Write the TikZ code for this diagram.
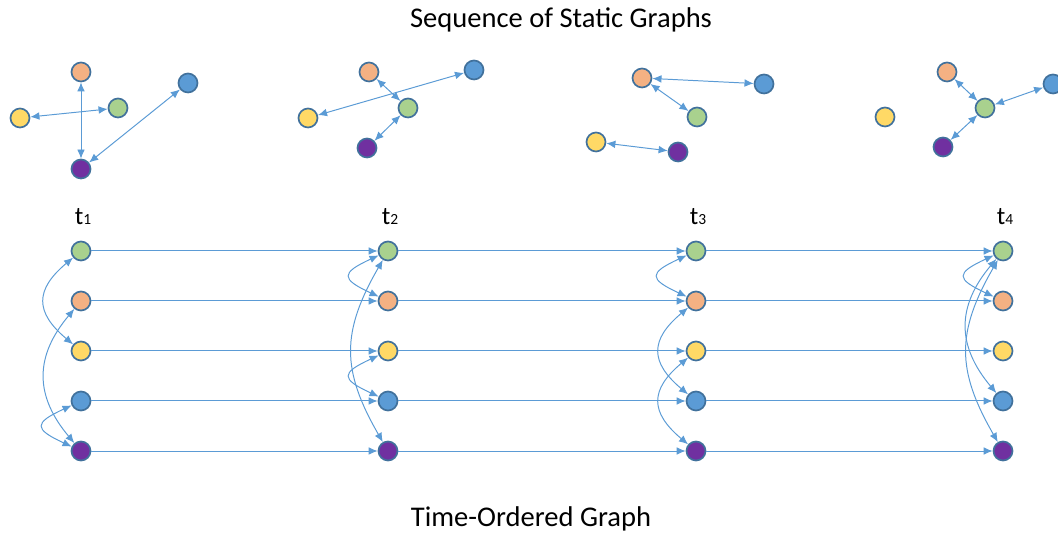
\documentclass[tikz,border=0pt]{standalone}
\usepackage{fontspec}
\setmainfont{Carlito}
\usetikzlibrary{arrows.meta}

\definecolor{vgreen}{HTML}{A9D18E}
\definecolor{vorange}{HTML}{F4B183}
\definecolor{vyellow}{HTML}{FFD966}
\definecolor{vblue}{HTML}{5B9BD5}
\definecolor{vpurple}{HTML}{7030A0}
\definecolor{vrim}{HTML}{41719C}
\definecolor{varrow}{HTML}{5B9BD5}

\tikzset{
 vert/.style={circle,draw=vrim,line width=1.2pt,minimum size=0.475cm,inner sep=0pt},
 link/.style={<->,draw=varrow,line width=0.7pt},
 flow/.style={->,draw=varrow,line width=0.7pt},
 hop1/.style={out=205,in=155,distance=1.05cm},
 hop2/.style={out=220,in=140,distance=1.25cm},
 hop3/.style={out=230,in=130,distance=1.55cm},
 hop4/.style={out=240,in=120,distance=2.08cm},
}

\begin{document}
\begin{tikzpicture}[x=0.025cm,y=0.025cm,>={Latex[length=6.5pt,width=5.5pt]}]
 \useasboundingbox (0,0) rectangle (1058,536);
 \node[font=\fontsize{20.3}{24}\selectfont] (title) at (561,516) {Sequence of Static Graphs};
 \node[font=\fontsize{20.3}{24}\selectfont] (foot) at (531,17) {Time-Ordered Graph};
 % ---- snapshot 1
 \node[vert,fill=vorange] (a1o) at (81,464) {};
 \node[vert,fill=vgreen]  (a1g) at (118,428) {};
 \node[vert,fill=vblue]   (a1b) at (188,453) {};
 \node[vert,fill=vyellow] (a1y) at (20,418) {};
 \node[vert,fill=vpurple] (a1p) at (81,367) {};
 \draw[link] (a1o) -- (a1p);
 \draw[link] (a1y) -- (a1g);
 \draw[link] (a1b) -- (a1p);
 % ---- snapshot 2
 \node[vert,fill=vorange] (a2o) at (369,464) {};
 \node[vert,fill=vgreen]  (a2g) at (408,428) {};
 \node[vert,fill=vblue]   (a2b) at (474,466) {};
 \node[vert,fill=vyellow] (a2y) at (308,418) {};
 \node[vert,fill=vpurple] (a2p) at (367,388) {};
 \draw[link] (a2o) -- (a2g);
 \draw[link] (a2y) -- (a2b);
 \draw[link] (a2g) -- (a2p);
 % ---- snapshot 3
 \node[vert,fill=vorange] (a3o) at (642,458) {};
 \node[vert,fill=vgreen]  (a3g) at (697,419) {};
 \node[vert,fill=vblue]   (a3b) at (764,452) {};
 \node[vert,fill=vyellow] (a3y) at (596,394) {};
 \node[vert,fill=vpurple] (a3p) at (678,384) {};
 \draw[link] (a3o) -- (a3b);
 \draw[link] (a3o) -- (a3g);
 \draw[link] (a3y) -- (a3p);
 % ---- snapshot 4
 \node[vert,fill=vorange] (a4o) at (947,464) {};
 \node[vert,fill=vgreen]  (a4g) at (985,428) {};
 \node[vert,fill=vblue]   (a4b) at (1053,452) {};
 \node[vert,fill=vyellow] (a4y) at (885,419) {};
 \node[vert,fill=vpurple] (a4p) at (943,389) {};
 \draw[link] (a4o) -- (a4g);
 \draw[link] (a4g) -- (a4b);
 \draw[link] (a4g) -- (a4p);
 % ---- time-ordered graph
 \foreach \x [count=\i] in {81,388,696,1003} {
  \node[vert,fill=vgreen]  (g\i) at (\x,285) {};
  \node[vert,fill=vorange] (o\i) at (\x,235) {};
  \node[vert,fill=vyellow] (y\i) at (\x,185) {};
  \node[vert,fill=vblue]   (b\i) at (\x,135) {};
  \node[vert,fill=vpurple] (p\i) at (\x,85) {};
  \node[font=\fontsize{18}{22}\selectfont] (t\i) at (\x+2,319) {t{\fontsize{11}{13}\selectfont\i}};
 }
 \foreach \i [evaluate=\i as \j using int(\i+1)] in {1,2,3} {
  \draw[flow] (g\i) -- (g\j);
  \draw[flow] (o\i) -- (o\j);
  \draw[flow] (y\i) -- (y\j);
  \draw[flow] (b\i) -- (b\j);
  \draw[flow] (p\i) -- (p\j);
 }
 % edges at each time step
 \draw[link] (g1) to[hop2] (y1);
 \draw[link] (o1) to[hop3] (p1);
 \draw[link] (b1) to[hop1] (p1);
 \draw[link] (g2) to[hop1] (o2);
 \draw[link] (y2) to[hop1] (b2);
 \draw[link] (g2) to[hop4] (p2);
 \draw[link] (g3) to[hop1] (o3);
 \draw[link] (o3) to[hop2] (b3);
 \draw[link] (y3) to[hop2] (p3);
 \draw[link] (g4) to[hop1] (o4);
 \draw[link] (g4) to[hop3] (b4);
 \draw[link] (g4) to[hop4] (p4);
\end{tikzpicture}
\end{document}
